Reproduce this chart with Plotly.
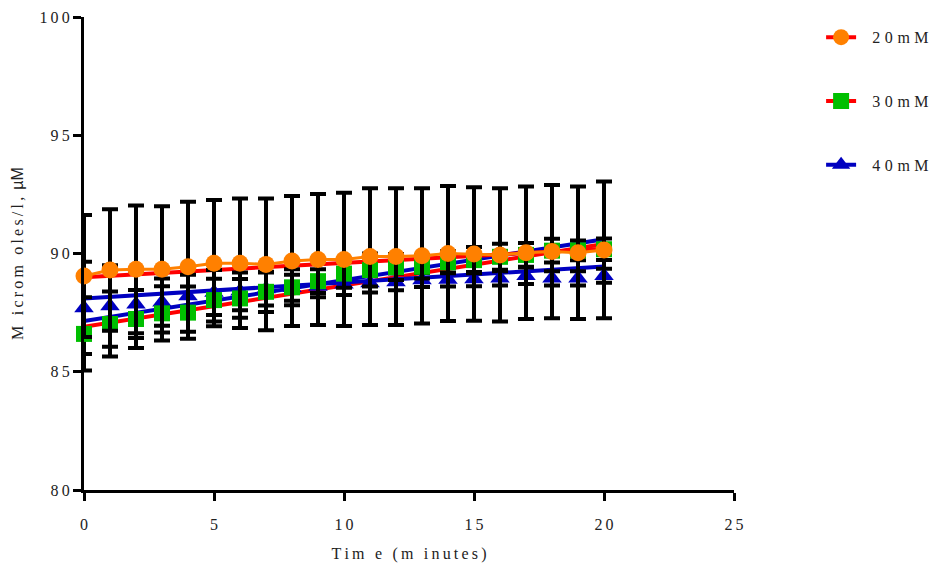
import plotly.graph_objects as go

# ---------------- data ----------------
time_min = list(range(0, 21))

mM20 = [89.05, 89.30, 89.33, 89.33, 89.44, 89.59, 89.59, 89.54, 89.68, 89.75, 89.75,
        89.87, 89.87, 89.90, 90.00, 89.98, 89.94, 90.03, 90.08, 90.03, 90.15]
mM20_err = [2.58, 2.57, 2.70, 2.67, 2.75, 2.67, 2.74, 2.79, 2.75, 2.77, 2.82,
            2.89, 2.89, 2.86, 2.85, 2.82, 2.82, 2.80, 2.82, 2.80, 2.89]

mM30 = [86.60, 87.02, 87.23, 87.47, 87.50, 88.03, 88.10, 88.38, 88.57, 88.83, 89.15,
        89.30, 89.43, 89.44, 89.63, 89.72, 89.86, 89.94, 90.12, 90.13, 90.18]
mM30_err = [1.55, 1.37, 1.23, 1.15, 1.10, 0.90, 0.82, 0.85, 0.76, 0.50, 0.60,
            0.70, 0.55, 0.50, 0.47, 0.55, 0.55, 0.50, 0.50, 0.42, 0.45]

mM40 = [87.70, 87.78, 87.85, 87.94, 88.20, 88.35, 88.40, 88.50, 88.55, 88.60, 88.70,
        88.75, 88.80, 88.88, 88.90, 88.92, 88.95, 89.06, 88.95, 88.95, 89.06]
mM40_err = [1.95, 1.72, 1.42, 1.00, 0.90, 0.95, 0.80, 0.70, 0.55, 0.45, 0.45,
            0.40, 0.35, 0.30, 0.30, 0.30, 0.30, 0.35, 0.30, 0.30, 0.30]

# straight trend lines (values at start and end time)
trend_x = [0, 20]
trend_20_red = [89.00, 90.20]
trend_40_blue = [88.10, 89.45]
trend_30_blue = [87.15, 90.60]
trend_30_red = [86.90, 90.40]

x_ticks = [0, 5, 10, 15, 20, 25]
y_ticks = [80, 85, 90, 95, 100]

series_names = ["20mM", "30mM", "40mM"]

# ---------------- styling ----------------
ORANGE = "#FF8000"
RED = "#FF0000"
GREEN = "#00BF00"
BLUE = "#0000C0"
SERIF = "Liberation Serif, Times New Roman, serif"
TS = "\u2009"


def spaced(s, sep=TS):
    return sep.join(list(s))


fig = go.Figure()

# trend lines (underneath)
for vals, col in [(trend_30_red, RED), (trend_30_blue, BLUE),
                  (trend_40_blue, BLUE), (trend_20_red, RED)]:
    fig.add_trace(go.Scatter(x=trend_x, y=vals, mode="lines",
                             line=dict(color=col, width=4),
                             showlegend=False, hoverinfo="skip"))

err_style = dict(type="data", visible=True, color="black", thickness=4, width=8)

# 40 mM
fig.add_trace(go.Scatter(
    x=time_min, y=mM40, mode="markers",
    marker=dict(symbol="triangle-up", size=17, color=BLUE, line=dict(width=0)),
    error_y=dict(array=mM40_err, **err_style),
    cliponaxis=False, showlegend=False))
# 30 mM
fig.add_trace(go.Scatter(
    x=time_min, y=mM30, mode="markers",
    marker=dict(symbol="square", size=16, color=GREEN, line=dict(width=0)),
    error_y=dict(array=mM30_err, **err_style),
    cliponaxis=False, showlegend=False))
# 20 mM
fig.add_trace(go.Scatter(
    x=time_min, y=mM20, mode="lines+markers",
    line=dict(color=ORANGE, width=3),
    marker=dict(symbol="circle", size=17, color=ORANGE, line=dict(width=0)),
    error_y=dict(array=mM20_err, **err_style),
    cliponaxis=False, showlegend=False))

# legend entries
legend_specs = [
    (series_names[0], "circle", ORANGE, RED, 17),
    (series_names[1], "square", GREEN, RED, 16),
    (series_names[2], "triangle-up", BLUE, BLUE, 17),
]
for i, (name, sym, mcol, lcol, sz) in enumerate(legend_specs):
    fig.add_trace(go.Scatter(
        x=[None], y=[None], mode="lines+markers",
        name="\u2002\u2009" + spaced(name, "\u2009\u200a"),
        line=dict(color=lcol, width=4),
        marker=dict(symbol=sym, size=sz, color=mcol, line=dict(width=0)),
        legendgroup=f"g{i}", showlegend=True))

axis_common = dict(
    showline=True, linecolor="black", linewidth=3,
    ticks="outside", tickcolor="black", tickwidth=3, ticklen=8,
    showgrid=False, zeroline=False,
    tickfont=dict(family=SERIF, size=16, color="#222222"),
)

fig.update_layout(
    width=938, height=574,
    margin=dict(l=84, r=204, t=17, b=84, autoexpand=False),
    paper_bgcolor="white", plot_bgcolor="white",
    xaxis=dict(range=[0, 25], tickvals=x_ticks,
               ticktext=[spaced(str(v)) for v in x_ticks],
               ticklabelstandoff=10,
               title=dict(text=spaced("Tim e (m inutes)"),
                          font=dict(family=SERIF, size=16, color="#222222"), standoff=16),
               **axis_common),
    yaxis=dict(range=[80, 100], tickvals=y_ticks,
               ticktext=[spaced(str(v)) for v in y_ticks],
               title=dict(text=spaced("M icrom oles/l, ") + "<span style=\"font-family:Liberation Sans, Arial, sans-serif\">µM</span>",
                          font=dict(family=SERIF, size=16, color="#222222"), standoff=12),
               **axis_common),
    legend=dict(x=1.134, y=0.993, xanchor="left", yanchor="top",
                font=dict(family=SERIF, size=16, color="#222222"),
                tracegroupgap=40, bgcolor="rgba(0,0,0,0)", borderwidth=0),
    showlegend=True,
)

fig.write_html("out.html")
